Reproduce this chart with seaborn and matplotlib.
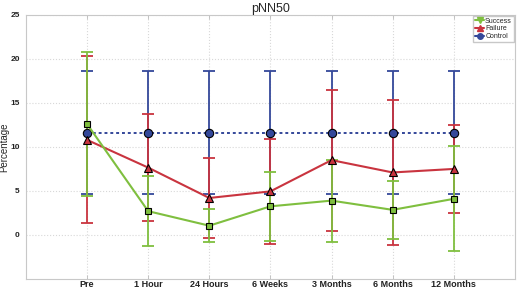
import numpy as np
import pandas as pd
import matplotlib
matplotlib.use("Agg")
import matplotlib.pyplot as plt
import seaborn as sns
from matplotlib.lines import Line2D

# ================================
# DATA
# ================================
timepoints = ["Pre", "1 Hour", "24 Hours", "6 Weeks", "3 Months", "6 Months", "12 Months"]

success_mean = [12.6, 2.7, 1.05, 3.25, 3.9, 2.85, 4.1]
success_err = [8.2, 3.95, 1.9, 3.9, 4.65, 3.3, 5.95]

failure_mean = [10.8, 7.65, 4.2, 4.95, 8.5, 7.1, 7.5]
failure_err = [9.5, 6.1, 4.5, 6.0, 8.0, 8.2, 5.05]

control_mean = [11.6, 11.6, 11.6, 11.6, 11.6, 11.6, 11.6]
control_err = [7.0, 7.0, 7.0, 7.0, 7.0, 7.0, 7.0]

# ================================
# STYLE
# ================================
sns.set_style("whitegrid", {"grid.linestyle": ":", "grid.color": "#d8d8d8",
                            "axes.edgecolor": "#c8c8c8"})
plt.rcParams["font.family"] = ["Liberation Sans", "DejaVu Sans"]

green = "#7fbf3f"
red = "#c9343f"
blue = "#34489a"

fig = plt.figure(figsize=(5.2, 2.93), dpi=100)
ax = fig.add_axes([0.05, 0.048, 0.94, 0.901])

x = np.arange(len(timepoints))

# ================================
# ERROR BARS
# ================================
ax.errorbar(x, control_mean, yerr=control_err, fmt="none", ecolor=blue,
            elinewidth=1.3, capsize=4, capthick=1.3, zorder=2)
ax.errorbar(x, failure_mean, yerr=failure_err, fmt="none", ecolor=red,
            elinewidth=1.3, capsize=4, capthick=1.3, zorder=3)
ax.errorbar(x, success_mean, yerr=success_err, fmt="none", ecolor=green,
            elinewidth=1.3, capsize=4, capthick=1.3, zorder=4)

# ================================
# LINES + MARKERS
# ================================
df = pd.DataFrame({
    "x": np.tile(x, 3),
    "value": control_mean + failure_mean + success_mean,
    "group": ["Control"] * 7 + ["Failure"] * 7 + ["Success"] * 7,
})

sns.lineplot(data=df[df.group == "Control"], x="x", y="value", color=blue,
             linestyle=(0, (1.5, 1.5)), linewidth=1.4, marker="o", markersize=6,
             markerfacecolor=blue, markeredgecolor="black", markeredgewidth=0.8,
             ax=ax, zorder=5, legend=False)
sns.lineplot(data=df[df.group == "Failure"], x="x", y="value", color=red,
             linewidth=1.5, marker="^", markersize=6,
             markerfacecolor=red, markeredgecolor="black", markeredgewidth=0.8,
             ax=ax, zorder=6, legend=False)
sns.lineplot(data=df[df.group == "Success"], x="x", y="value", color=green,
             linewidth=1.5, marker="s", markersize=5,
             markerfacecolor=green, markeredgecolor="black", markeredgewidth=0.8,
             ax=ax, zorder=7, legend=False)

# ================================
# AXES
# ================================
ax.set_xlim(-1, 7)
ax.set_ylim(-5, 25)
ax.set_xticks(x)
ax.set_xticklabels(timepoints, fontsize=6.5, fontweight="bold", color="#222222")
ax.set_yticks([0, 5, 10, 15, 20, 25])
ax.tick_params(axis="y", labelsize=6, pad=1, colors="#222222")
ax.tick_params(axis="x", pad=1)
ax.tick_params(axis="x", which="major", direction="in", length=3, width=0.6,
               top=True, bottom=True, color="#bbbbbb")
for lab in ax.get_yticklabels():
    lab.set_fontweight("bold")
ax.set_xlabel("")
ax.set_ylabel("Percentage", fontsize=7)
ax.yaxis.set_label_coords(-0.034, 0.5)
ax.set_title("pNN50", fontsize=9, pad=2)
for s in ax.spines.values():
    s.set_linewidth(0.8)

handles = [
    Line2D([0], [0], color=green, marker="v", markersize=4, markerfacecolor=green, lw=1.5),
    Line2D([0], [0], color=red, marker="^", markersize=4, markerfacecolor=red, lw=1.5),
    Line2D([0], [0], color=blue, marker="o", markersize=4, markerfacecolor=blue, lw=1.5),
]
leg = ax.legend(handles, ["Success", "Failure", "Control"], loc="upper right",
                fontsize=5, frameon=True, fancybox=False, handlelength=1.2,
                handletextpad=0.2, borderpad=0.3, labelspacing=0.1,
                borderaxespad=0.1, edgecolor="#bbbbbb")

plt.savefig("out.png", dpi=100)
